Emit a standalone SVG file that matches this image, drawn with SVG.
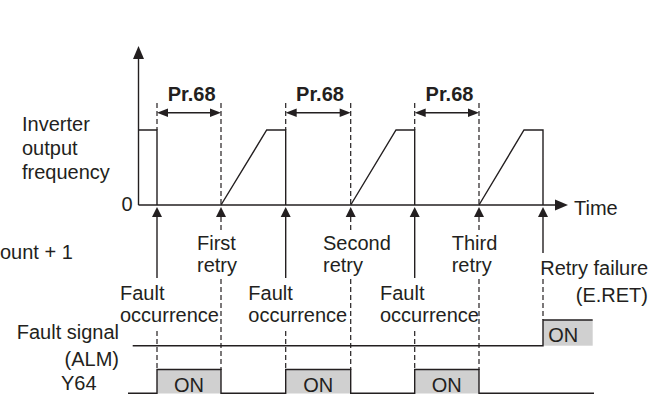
<svg xmlns="http://www.w3.org/2000/svg" width="651" height="394" viewBox="0 0 651 394">
<style>
text{font-family:"Liberation Sans",Arial,sans-serif;font-size:20px;fill:#231f20}
.b{font-weight:bold}
.m{text-anchor:middle}
.e{text-anchor:end}
.ln{stroke:#231f20;stroke-width:1.4;fill:none}
.ds{stroke:#231f20;stroke-width:1.2;fill:none;stroke-dasharray:5 3}
.ah{fill:#231f20;stroke:none}
.on{fill:#d0d0d0;stroke:none}
</style>
<rect width="651" height="394" fill="#fff"/>
<g id="axes">
<line class="ln" x1="138.5" y1="205" x2="138.5" y2="57"/>
<polygon class="ah" points="133,59 144,59 138.5,46"/>
<line class="ln" x1="138.5" y1="205" x2="557" y2="205"/>
<polygon class="ah" points="555,199.5 555,210.5 568,205"/>
<text x="127" y="211" class="m">0</text>
<text x="574" y="215">Time</text>
</g>
<g id="ylabel">
<text x="22" y="131">Inverter</text>
<text x="22" y="155">output</text>
<text x="22" y="179">frequency</text>
</g>
<g id="waveform">
<polyline class="ln" points="138.5,130 157,130 157,205"/>
<polyline class="ln" points="221,205 266.7,130 285.7,130 285.7,205"/>
<polyline class="ln" points="350.7,205 396,130 414.7,130 414.7,205"/>
<polyline class="ln" points="479,205 524,130 543,130 543,205"/>
</g>
<g id="pr68">
<line class="ds" x1="157" y1="103" x2="157" y2="130"/>
<line class="ds" x1="285.7" y1="103" x2="285.7" y2="130"/>
<line class="ds" x1="414.7" y1="103" x2="414.7" y2="130"/>
<line class="ds" x1="221" y1="103" x2="221" y2="205"/>
<line class="ds" x1="350.7" y1="103" x2="350.7" y2="205"/>
<line class="ds" x1="479" y1="103" x2="479" y2="205"/>
<line class="ln" x1="165" y1="112.7" x2="213" y2="112.7"/>
<polygon class="ah" points="157,112.7 168,108.5 168,117"/>
<polygon class="ah" points="221,112.7 210,108.5 210,117"/>
<line class="ln" x1="294" y1="112.7" x2="342" y2="112.7"/>
<polygon class="ah" points="285.7,112.7 296.7,108.5 296.7,117"/>
<polygon class="ah" points="350.7,112.7 339.7,108.5 339.7,117"/>
<line class="ln" x1="423" y1="112.7" x2="471" y2="112.7"/>
<polygon class="ah" points="414.7,112.7 425.7,108.5 425.7,117"/>
<polygon class="ah" points="479,112.7 468,108.5 468,117"/>
<text x="191.7" y="100.7" class="b m">Pr.68</text>
<text x="320" y="100.7" class="b m">Pr.68</text>
<text x="449.5" y="100.7" class="b m">Pr.68</text>
</g>
<g id="connectors">
<polygon class="ah" points="157,207 152,217 162,217"/>
<polygon class="ah" points="221,207 216,217 226,217"/>
<polygon class="ah" points="285.7,207 280.7,217 290.7,217"/>
<polygon class="ah" points="350.7,207 345.7,217 355.7,217"/>
<polygon class="ah" points="414.7,207 409.7,217 419.7,217"/>
<polygon class="ah" points="479,207 474,217 484,217"/>
<polygon class="ah" points="543,207 538,217 548,217"/>
<line class="ln" x1="157" y1="216" x2="157" y2="278"/>
<line class="ln" x1="285.7" y1="216" x2="285.7" y2="278"/>
<line class="ln" x1="414.7" y1="216" x2="414.7" y2="278"/>
<line class="ln" x1="543" y1="216" x2="543" y2="253"/>
<line class="ds" x1="157" y1="331" x2="157" y2="370"/>
<line class="ds" x1="285.7" y1="331" x2="285.7" y2="370"/>
<line class="ds" x1="414.7" y1="331" x2="414.7" y2="370"/>
<line class="ds" x1="221" y1="217" x2="221" y2="233"/>
<line class="ds" x1="350.7" y1="217" x2="350.7" y2="233"/>
<line class="ds" x1="479" y1="217" x2="479" y2="233"/>
<line class="ds" x1="221" y1="279" x2="221" y2="370"/>
<line class="ds" x1="350.7" y1="279" x2="350.7" y2="370"/>
<line class="ds" x1="479" y1="279" x2="479" y2="370"/>
<line class="ds" x1="543" y1="279" x2="543" y2="320"/>
</g>
<g id="labels">
<text x="0" y="259">ount + 1</text>
<text x="197" y="250">First</text>
<text x="197" y="271.7">retry</text>
<text x="323" y="250">Second</text>
<text x="323" y="271.7">retry</text>
<text x="451.7" y="250">Third</text>
<text x="451.7" y="271.7">retry</text>
<text x="648" y="275" class="e">Retry failure</text>
<text x="648" y="301.7" class="e">(E.RET)</text>
<text x="120" y="300">Fault</text>
<text x="120" y="321.7">occurrence</text>
<text x="248.3" y="300">Fault</text>
<text x="248.3" y="321.7">occurrence</text>
<text x="380" y="300">Fault</text>
<text x="380" y="321.7">occurrence</text>
</g>
<g id="alm">
<text x="119" y="339" class="e">Fault signal</text>
<text x="119" y="365.7" class="e">(ALM)</text>
<rect class="on" x="543" y="320" width="49.7" height="25.7"/>
<polyline class="ln" points="132.7,345.7 543,345.7 543,320 592.7,320"/>
<text x="548.3" y="341.5">ON</text>
</g>
<g id="y64">
<text x="61" y="390">Y64</text>
<rect class="on" x="157" y="369.5" width="64" height="24"/>
<rect class="on" x="285.7" y="369.5" width="65" height="24"/>
<rect class="on" x="414.7" y="369.5" width="64.3" height="24"/>
<polyline class="ln" points="128,393.3 157,393.3 157,369.5 221,369.5 221,393.3 285.7,393.3 285.7,369.5 350.7,369.5 350.7,393.3 414.7,393.3 414.7,369.5 479,369.5 479,393.3 594,393.3"/>
<text x="189" y="391.5" class="m">ON</text>
<text x="318.2" y="391.5" class="m">ON</text>
<text x="446.8" y="391.5" class="m">ON</text>
</g>
</svg>
